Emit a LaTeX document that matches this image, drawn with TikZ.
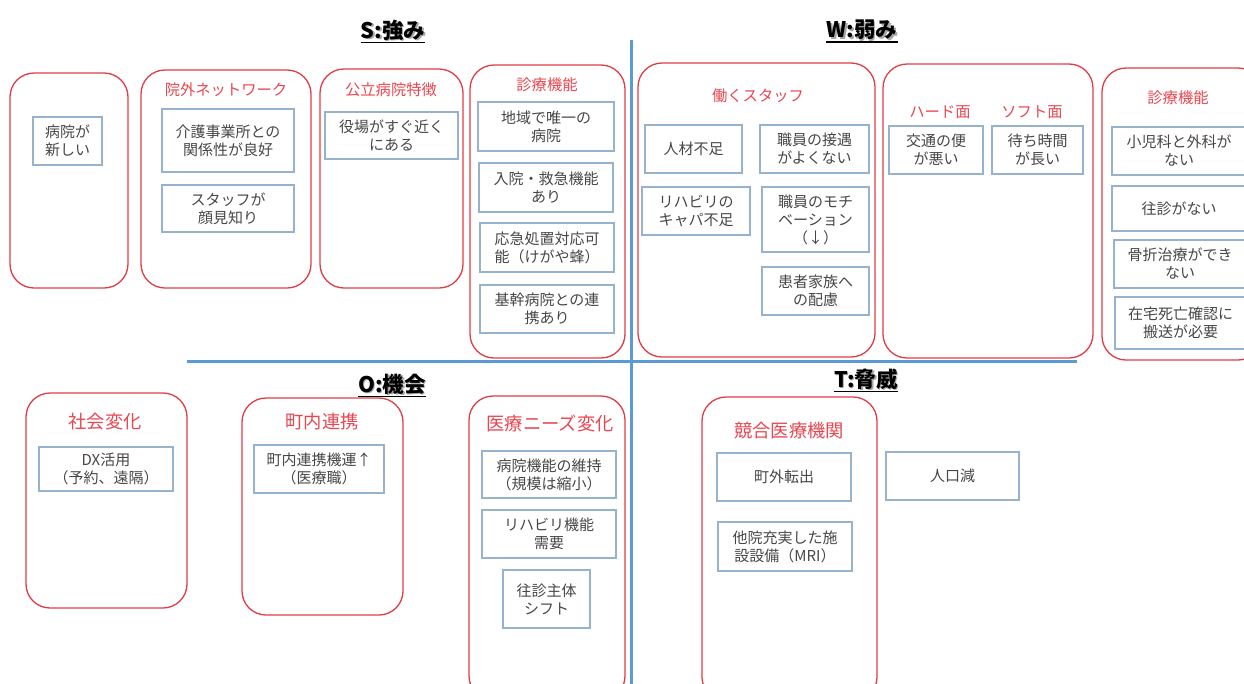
\documentclass[tikz,border=0pt]{standalone}
\usepackage{fontspec}
\setmainfont{Noto Sans CJK JP}
\definecolor{redl}{RGB}{225,60,70}
\definecolor{redt}{RGB}{232,70,80}
\definecolor{blueb}{RGB}{150,178,205}
\definecolor{txt}{RGB}{70,70,70}
\definecolor{axisc}{RGB}{91,155,213}
\tikzset{
 redbox/.style={draw=redl, line width=1.3pt, rounded corners=24pt, inner sep=0pt},
 bluebox/.style={draw=blueb, line width=1.1pt, inner sep=0pt, align=center, text=txt, font=\fontsize{15}{18}\selectfont},
 lab/.style={text=redt, inner sep=0pt, font=\fontsize{15.3}{18}\selectfont},
 labbig/.style={text=redt, inner sep=0pt, font=\fontsize{18.3}{22}\selectfont},
 ttl/.style={inner sep=0pt, font=\fontsize{21.5}{24}\selectfont\bfseries},
 ttlshadow/.style={ttl, text=black!35},
 axisline/.style={draw=axisc, line width=3pt},
 uline/.style={draw=black, line width=1.3pt},
}
\begin{document}
\begin{tikzpicture}[x=1pt,y=-1pt]
\useasboundingbox (0,0) rectangle (1244,683);
% axes
\coordinate (vt) at (631,40);
\coordinate (vb) at (631,690);
\coordinate (hl) at (187,361.5);
\coordinate (hr) at (1077,361.5);
\draw[axisline] (vt) -- (vb);
\draw[axisline] (hl) -- (hr);
% titles
\node[ttlshadow] (tSs) at (394.5,31.5) {S:強み};
\node[ttl] (tS) at (393,30) {S:強み};
\draw[uline] ([yshift=-2pt]tS.south west) -- ([yshift=-2pt]tS.south east);
\node[ttlshadow] (tWs) at (863.5,31.5) {W:弱み};
\node[ttl] (tW) at (862,30) {W:弱み};
\draw[uline] ([yshift=-2pt]tW.south west) -- ([yshift=-2pt]tW.south east);
\node[ttlshadow] (tOs) at (393.5,385.5) {O:機会};
\node[ttl] (tO) at (392,384) {O:機会};
\draw[uline] ([yshift=-2pt]tO.south west) -- ([yshift=-2pt]tO.south east);
\node[ttlshadow] (tTs) at (867.5,380.5) {T:脅威};
\node[ttl] (tT) at (866,379) {T:脅威};
\draw[uline] ([yshift=-2pt]tT.south west) -- ([yshift=-2pt]tT.south east);
% ===== S =====
\node[redbox, minimum width=118pt, minimum height=215pt] (S1) at (69,180.5) {};
\node[bluebox, minimum width=69pt, minimum height=48pt] (s11) at (67.5,141) {病院が\\新しい};
\node[redbox, minimum width=170pt, minimum height=218pt] (S2) at (226,179) {};
\node[lab] (S2l) at (226,90) {院外ネットワーク};
\node[bluebox, minimum width=132pt, minimum height=63pt] (s21) at (228,140.5) {介護事業所との\\関係性が良好};
\node[bluebox, minimum width=132pt, minimum height=47pt] (s22) at (228,208.5) {スタッフが\\顔見知り};
\node[redbox, minimum width=143pt, minimum height=219pt] (S3) at (391.5,178.5) {};
\node[lab] (S3l) at (391,90) {公立病院特徴};
\node[bluebox, minimum width=133pt, minimum height=47pt] (s31) at (391.5,135.5) {役場がすぐ近く\\にある};
\node[redbox, minimum width=155pt, minimum height=293pt] (S4) at (547.5,211.5) {};
\node[lab] (S4l) at (547,85) {診療機能};
\node[bluebox, minimum width=136pt, minimum height=49pt] (s41) at (546,126.5) {地域で唯一の\\病院};
\node[bluebox, minimum width=134pt, minimum height=49pt] (s42) at (546,187.5) {入院・救急機能\\あり};
\node[bluebox, minimum width=134pt, minimum height=49pt] (s43) at (547,247.5) {応急処置対応可\\能（けがや蜂）};
\node[bluebox, minimum width=134pt, minimum height=48pt] (s44) at (547,309) {基幹病院との連\\携あり};
% ===== W =====
\node[redbox, minimum width=237pt, minimum height=294pt] (W1) at (756.5,210) {};
\node[lab] (W1l) at (758,96) {働くスタッフ};
\node[bluebox, minimum width=97pt, minimum height=48pt] (w11) at (693.5,149) {人材不足};
\node[bluebox, minimum width=109pt, minimum height=48pt] (w12) at (814.5,149) {職員の接遇\\がよくない};
\node[bluebox, minimum width=108pt, minimum height=48pt] (w13) at (696,211) {リハビリの\\キャパ不足};
\node[bluebox, minimum width=107pt, minimum height=65pt] (w14) at (815.5,219.5) {職員のモチ\\ベーション\\（↓）};
\node[bluebox, minimum width=107pt, minimum height=48pt] (w15) at (815.5,291) {患者家族へ\\の配慮};
\node[redbox, minimum width=210pt, minimum height=294pt] (W2) at (988,211) {};
\node[lab] (W2a) at (940,112) {ハード面};
\node[lab] (W2b) at (1032,112) {ソフト面};
\node[bluebox, minimum width=94pt, minimum height=48pt] (w21) at (936,150) {交通の便\\が悪い};
\node[bluebox, minimum width=91pt, minimum height=48pt] (w22) at (1037.5,150) {待ち時間\\が長い};
\node[redbox, minimum width=160pt, minimum height=292pt] (W3) at (1182,214) {};
\node[lab] (W3l) at (1178,98) {診療機能};
\node[bluebox, minimum width=134pt, minimum height=48pt] (w31) at (1179,151) {小児科と外科が\\ない};
\node[bluebox, minimum width=134pt, minimum height=45pt] (w32) at (1179,208.5) {往診がない};
\node[bluebox, minimum width=132pt, minimum height=48pt] (w33) at (1180,264) {骨折治療ができ\\ない};
\node[bluebox, minimum width=131pt, minimum height=52pt] (w34) at (1180.5,323) {在宅死亡確認に\\搬送が必要};
% ===== O =====
\node[redbox, minimum width=161pt, minimum height=215pt] (O1) at (106.5,500.5) {};
\node[labbig] (O1l) at (105,422) {社会変化};
\node[bluebox, minimum width=134pt, minimum height=44pt] (o11) at (106,469) {DX活用\\（予約、遠隔）};
\node[redbox, minimum width=161pt, minimum height=217pt] (O2) at (322.5,506.5) {};
\node[labbig] (O2l) at (322,422) {町内連携};
\node[bluebox, minimum width=130pt, minimum height=48pt] (o21) at (319,469) {町内連携機運↑\\（医療職）};
\node[redbox, minimum width=156pt, minimum height=304pt] (O3) at (547,548) {};
\node[labbig] (O3l) at (550,423) {医療ニーズ変化};
\node[bluebox, minimum width=134pt, minimum height=47pt] (o31) at (549,474.5) {病院機能の維持\\（規模は縮小）};
\node[bluebox, minimum width=134pt, minimum height=48pt] (o32) at (549,534) {リハビリ機能\\需要};
\node[bluebox, minimum width=87pt, minimum height=58pt] (o33) at (546.5,599) {往診主体\\シフト};
% ===== T =====
\node[redbox, minimum width=175pt, minimum height=304pt] (T1) at (789.5,549) {};
\node[labbig] (T1l) at (789,431) {競合医療機関};
\node[bluebox, minimum width=134pt, minimum height=48pt] (t11) at (784,477) {町外転出};
\node[bluebox, minimum width=134pt, minimum height=49pt] (t12) at (785,546.5) {他院充実した施\\設設備（MRI）};
\node[bluebox, minimum width=133pt, minimum height=48pt] (t21) at (952.5,476) {人口減};
\end{tikzpicture}
\end{document}
